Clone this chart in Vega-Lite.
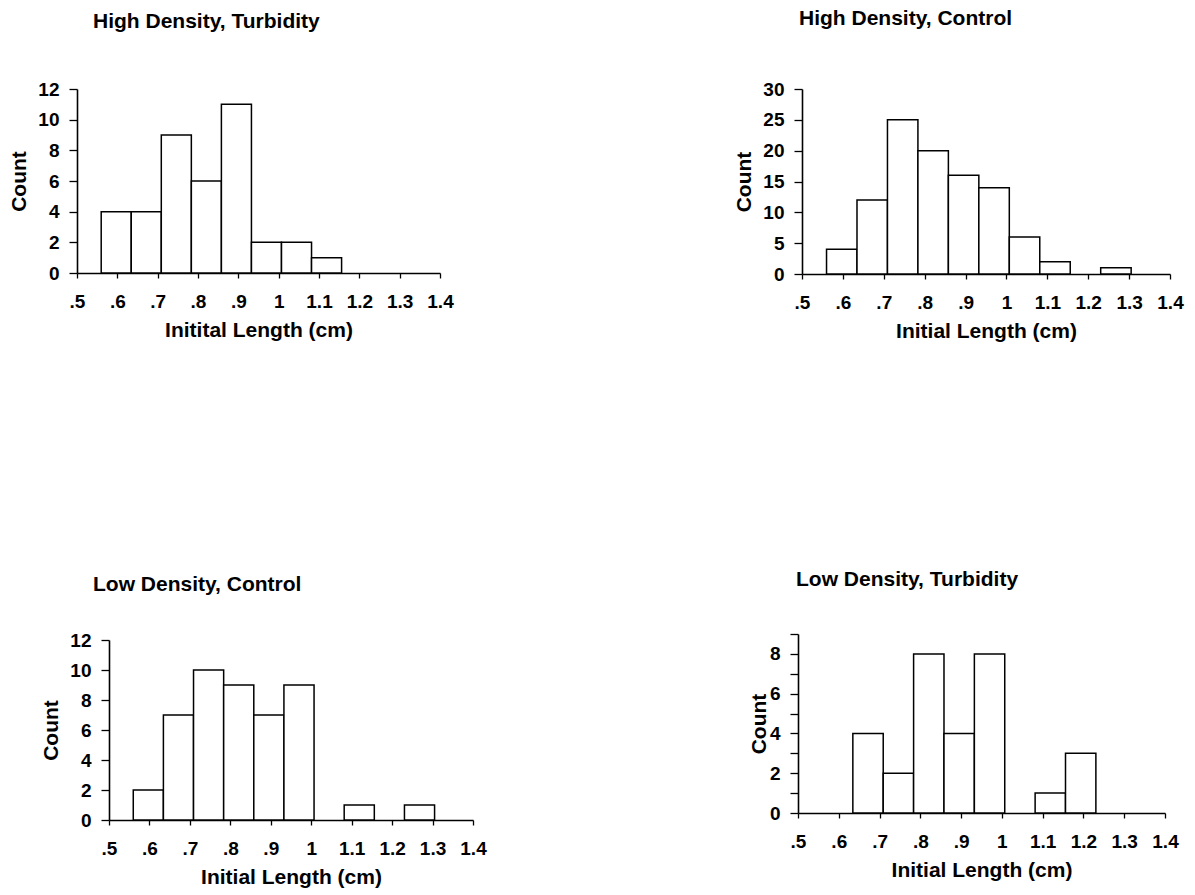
{
  "$schema": "https://vega.github.io/schema/vega-lite/v6.json",
  "background": "white",
  "padding": {"left": 8, "top": 8, "right": 5, "bottom": 5},
  "datasets": {
    "bins": [
      {"panel": "High Density, Turbidity", "lo": 0.56, "hi": 0.6345, "count": 4},
      {"panel": "High Density, Turbidity", "lo": 0.6345, "hi": 0.709, "count": 4},
      {"panel": "High Density, Turbidity", "lo": 0.709, "hi": 0.7835, "count": 9},
      {"panel": "High Density, Turbidity", "lo": 0.7835, "hi": 0.858, "count": 6},
      {"panel": "High Density, Turbidity", "lo": 0.858, "hi": 0.9325, "count": 11},
      {"panel": "High Density, Turbidity", "lo": 0.9325, "hi": 1.007, "count": 2},
      {"panel": "High Density, Turbidity", "lo": 1.007, "hi": 1.0815, "count": 2},
      {"panel": "High Density, Turbidity", "lo": 1.0815, "hi": 1.156, "count": 1},

      {"panel": "High Density, Control", "lo": 0.56, "hi": 0.6345, "count": 4},
      {"panel": "High Density, Control", "lo": 0.6345, "hi": 0.709, "count": 12},
      {"panel": "High Density, Control", "lo": 0.709, "hi": 0.7835, "count": 25},
      {"panel": "High Density, Control", "lo": 0.7835, "hi": 0.858, "count": 20},
      {"panel": "High Density, Control", "lo": 0.858, "hi": 0.9325, "count": 16},
      {"panel": "High Density, Control", "lo": 0.9325, "hi": 1.007, "count": 14},
      {"panel": "High Density, Control", "lo": 1.007, "hi": 1.0815, "count": 6},
      {"panel": "High Density, Control", "lo": 1.0815, "hi": 1.156, "count": 2},
      {"panel": "High Density, Control", "lo": 1.2305, "hi": 1.305, "count": 1},

      {"panel": "Low Density, Control", "lo": 0.56, "hi": 0.6345, "count": 2},
      {"panel": "Low Density, Control", "lo": 0.6345, "hi": 0.709, "count": 7},
      {"panel": "Low Density, Control", "lo": 0.709, "hi": 0.7835, "count": 10},
      {"panel": "Low Density, Control", "lo": 0.7835, "hi": 0.858, "count": 9},
      {"panel": "Low Density, Control", "lo": 0.858, "hi": 0.9325, "count": 7},
      {"panel": "Low Density, Control", "lo": 0.9325, "hi": 1.007, "count": 9},
      {"panel": "Low Density, Control", "lo": 1.0815, "hi": 1.156, "count": 1},
      {"panel": "Low Density, Control", "lo": 1.2305, "hi": 1.305, "count": 1},

      {"panel": "Low Density, Turbidity", "lo": 0.6345, "hi": 0.709, "count": 4},
      {"panel": "Low Density, Turbidity", "lo": 0.709, "hi": 0.7835, "count": 2},
      {"panel": "Low Density, Turbidity", "lo": 0.7835, "hi": 0.858, "count": 8},
      {"panel": "Low Density, Turbidity", "lo": 0.858, "hi": 0.9325, "count": 4},
      {"panel": "Low Density, Turbidity", "lo": 0.9325, "hi": 1.007, "count": 8},
      {"panel": "Low Density, Turbidity", "lo": 1.0815, "hi": 1.156, "count": 1},
      {"panel": "Low Density, Turbidity", "lo": 1.156, "hi": 1.2305, "count": 3}
    ]
  },
  "config": {
    "font": "Liberation Sans",
    "view": {"stroke": null},
    "axis": {
      "grid": false,
      "domainColor": "black",
      "domainWidth": 1.6,
      "tickColor": "black",
      "tickWidth": 1.3,
      "labelColor": "black",
      "labelFont": "Liberation Sans",
      "labelFontSize": 19,
      "labelFontWeight": "bold",
      "labelOverlap": false,
      "titleColor": "black",
      "titleFont": "Liberation Sans",
      "titleFontSize": 21,
      "titleFontWeight": "bold"
    },
    "axisX": {"tickSize": 5, "labelPadding": 14, "titlePadding": 8, "labelFlush": false},
    "axisY": {"tickSize": 8, "labelPadding": 10, "titlePadding": 8},
    "title": {"anchor": "start", "frame": "group", "fontSize": 21, "fontWeight": "bold", "color": "black", "font": "Liberation Sans"},
    "concat": {"spacing": 0}
  },
  "spacing": 228,
  "vconcat": [
    {
      "spacing": 279,
      "hconcat": [
        {
          "title": {"text": "High Density, Turbidity", "dx": 16, "offset": 48},
          "width": 363,
          "height": 184,
          "data": {"name": "bins"},
          "transform": [{"filter": "datum.panel === 'High Density, Turbidity'"}],
          "mark": {"type": "rect", "fill": "white", "stroke": "black", "strokeWidth": 1.5},
          "encoding": {
            "x": {"field": "lo", "type": "quantitative", "scale": {"domain": [0.5, 1.4], "nice": false, "zero": false},
              "axis": {"title": "Initital Length (cm)", "values": [0.5, 0.6, 0.7, 0.8, 0.9, 1, 1.1, 1.2, 1.3, 1.4],
                "labelExpr": "datum.value < 1 ? '.' + format(datum.value * 10, '.0f') : format(datum.value, '.1~f')"}},
            "x2": {"field": "hi"},
            "y": {"field": "count", "type": "quantitative", "scale": {"domain": [0, 12], "nice": false},
              "axis": {"title": "Count", "values": [0, 2, 4, 6, 8, 10, 12]}},
            "y2": {"datum": 0}
          }
        },
        {
          "title": {"text": "High Density, Control", "dx": -3, "offset": 51},
          "width": 368,
          "height": 185,
          "data": {"name": "bins"},
          "transform": [{"filter": "datum.panel === 'High Density, Control'"}],
          "mark": {"type": "rect", "fill": "white", "stroke": "black", "strokeWidth": 1.5},
          "encoding": {
            "x": {"field": "lo", "type": "quantitative", "scale": {"domain": [0.5, 1.4], "nice": false, "zero": false},
              "axis": {"title": "Initial Length (cm)", "values": [0.5, 0.6, 0.7, 0.8, 0.9, 1, 1.1, 1.2, 1.3, 1.4],
                "labelExpr": "datum.value < 1 ? '.' + format(datum.value * 10, '.0f') : format(datum.value, '.1~f')"}},
            "x2": {"field": "hi"},
            "y": {"field": "count", "type": "quantitative", "scale": {"domain": [0, 30], "nice": false},
              "axis": {"title": "Count", "values": [0, 5, 10, 15, 20, 25, 30]}},
            "y2": {"datum": 0}
          }
        }
      ]
    },
    {
      "spacing": 261,
      "hconcat": [
        {
          "spacing": 0,
          "bounds": "flush",
          "vconcat": [
            {
              "width": 1,
              "height": 6,
              "data": {"values": []},
              "mark": "rect",
              "encoding": {}
            },
            {
              "spacing": 0,
              "bounds": "flush",
              "hconcat": [
                {
                  "width": 32,
                  "height": 1,
                  "data": {"values": []},
                  "mark": "rect",
                  "encoding": {}
                },
                {
                  "title": {"text": "Low Density, Control", "dx": -16, "offset": 36},
                  "width": 364,
                  "height": 180,
                  "data": {"name": "bins"},
                  "transform": [{"filter": "datum.panel === 'Low Density, Control'"}],
                  "mark": {"type": "rect", "fill": "white", "stroke": "black", "strokeWidth": 1.5},
                  "encoding": {
                    "x": {"field": "lo", "type": "quantitative", "scale": {"domain": [0.5, 1.4], "nice": false, "zero": false},
                      "axis": {"title": "Initial Length (cm)", "values": [0.5, 0.6, 0.7, 0.8, 0.9, 1, 1.1, 1.2, 1.3, 1.4],
                        "labelExpr": "datum.value < 1 ? '.' + format(datum.value * 10, '.0f') : format(datum.value, '.1~f')"}},
                    "x2": {"field": "hi"},
                    "y": {"field": "count", "type": "quantitative", "scale": {"domain": [0, 12], "nice": false},
                      "axis": {"title": "Count", "values": [0, 2, 4, 6, 8, 10, 12]}},
                    "y2": {"datum": 0}
                  }
                }
              ]
            }
          ]
        },
        {
          "title": {"text": "Low Density, Turbidity", "dx": -2, "offset": 35},
          "width": 367,
          "height": 179,
          "data": {"name": "bins"},
          "transform": [{"filter": "datum.panel === 'Low Density, Turbidity'"}],
          "mark": {"type": "rect", "fill": "white", "stroke": "black", "strokeWidth": 1.5},
          "encoding": {
            "x": {"field": "lo", "type": "quantitative", "scale": {"domain": [0.5, 1.4], "nice": false, "zero": false},
              "axis": {"title": "Initial Length (cm)", "values": [0.5, 0.6, 0.7, 0.8, 0.9, 1, 1.1, 1.2, 1.3, 1.4],
                "labelExpr": "datum.value < 1 ? '.' + format(datum.value * 10, '.0f') : format(datum.value, '.1~f')"}},
            "x2": {"field": "hi"},
            "y": {"field": "count", "type": "quantitative", "scale": {"domain": [0, 9], "nice": false},
              "axis": {"title": "Count", "titlePadding": 0, "values": [0, 1, 2, 3, 4, 5, 6, 7, 8, 9],
                "labelExpr": "datum.value % 2 === 0 ? datum.label : ''"}},
            "y2": {"datum": 0}
          }
        }
      ]
    }
  ]
}
